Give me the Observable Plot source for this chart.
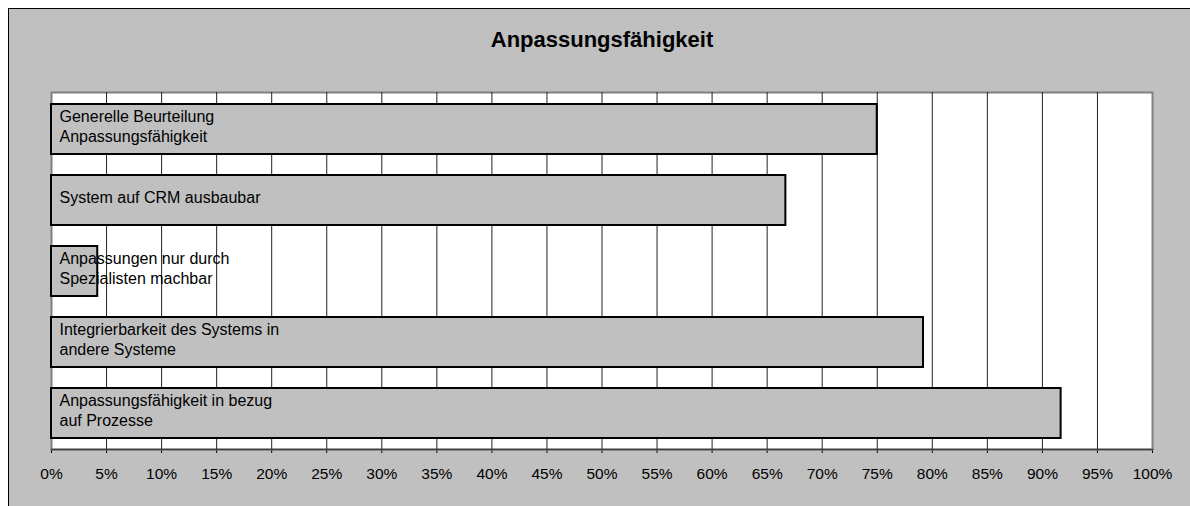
<!DOCTYPE html>
<html>
<head>
<meta charset="utf-8">
<script src="https://cdn.jsdelivr.net/npm/d3@7"></script>
<script src="https://cdn.jsdelivr.net/npm/@observablehq/plot@0.6"></script>
<style>
  body { margin: 0; background: #fff; }
  #chart { position: relative; width: 1190px; height: 506px; overflow: hidden; background: #fff; }
  #panel { position: absolute; left: 8px; top: 8px; width: 1200px; height: 520px; background: #c0c0c0; border: 1px solid #000; }
  #chart svg { position: absolute; left: 0; top: 0; }
</style>
</head>
<body>
<div id="chart"><div id="panel"></div></div>
<script>
// Chart title
const title = "Anpassungsfähigkeit";

// Survey criteria (top to bottom) and share of positive answers
const categories = [
  "Generelle Beurteilung\nAnpassungsfähigkeit",
  "System auf CRM ausbaubar",
  "Anpassungen nur durch\nSpezialisten machbar",
  "Integrierbarkeit des Systems in\nandere Systeme",
  "Anpassungsfähigkeit in bezug\nauf Prozesse"
];
const shares = [0.75, 0.667, 0.042, 0.792, 0.917];

// Percentage axis ticks
const xTicks = [0, 0.05, 0.10, 0.15, 0.20, 0.25, 0.30, 0.35, 0.40, 0.45, 0.50,
                0.55, 0.60, 0.65, 0.70, 0.75, 0.80, 0.85, 0.90, 0.95, 1.00];
const gridTicks = xTicks.slice(1, -1);

const data = categories.map((category, i) => ({category, share: shares[i]}));

const chart = Plot.plot({
  width: 1190,
  height: 506,
  marginLeft: 51,
  marginRight: 38,
  marginTop: 92,
  marginBottom: 57,
  style: {background: "transparent", fontFamily: "'Liberation Sans', Arial, sans-serif", fontSize: "15.5px", color: "#000"},
  x: {domain: [0, 1], ticks: xTicks, tickFormat: d3.format(".0%"), tickSize: 4, tickPadding: 14, label: null},
  y: {domain: categories, paddingInner: 0.3, paddingOuter: 0.15, axis: null},
  marks: [
    Plot.frame({fill: "#fff", stroke: "#808080", strokeWidth: 2}),
    Plot.ruleX(gridTicks, {stroke: "#222", strokeWidth: 1}),
    Plot.frame({anchor: "bottom", stroke: "#404040", strokeWidth: 1.5}),
    Plot.barX(data, {x: "share", y: "category", fill: "#c0c0c0", stroke: "#000", strokeWidth: 2}),
    Plot.text(data, {x: 0, y: "category", text: "category", textAnchor: "start", dx: 8, dy: -3.5, lineHeight: 1.25, fontSize: 16, fill: "#000"}),
    Plot.text([title], {frameAnchor: "top", dy: -53, lineAnchor: "middle", fontWeight: "bold", fontSize: 22, fill: "#000"})
  ]
});

document.getElementById("chart").appendChild(chart);
</script>
</body>
</html>
